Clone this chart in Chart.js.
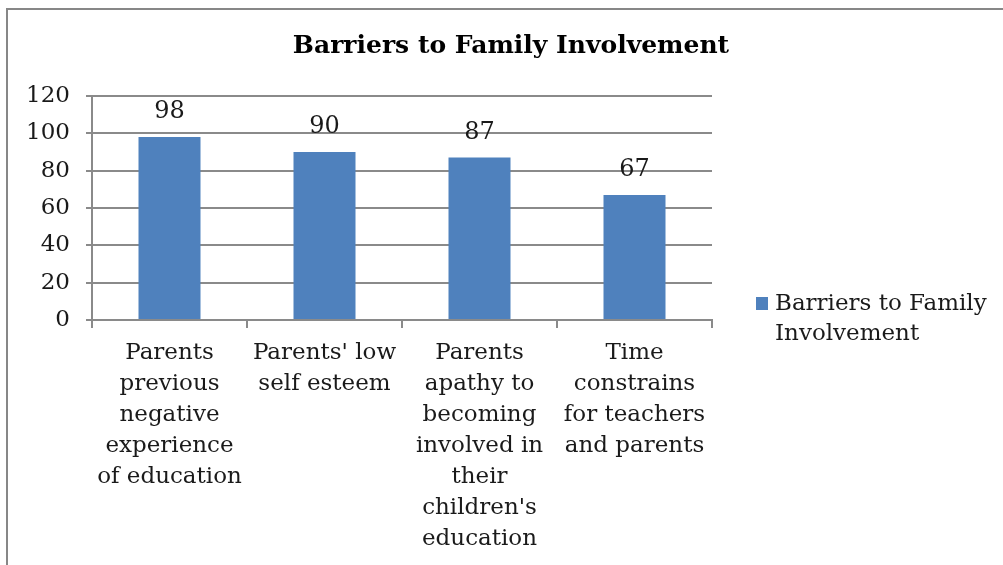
<!DOCTYPE html>
<html>
<head>
<meta charset="utf-8">
<title>Barriers to Family Involvement</title>
<script src="https://cdn.jsdelivr.net/npm/chart.js@4/dist/chart.umd.min.js"></script>
<style>
    html, body {
        margin: 0;
        padding: 0;
        background: #ffffff;
        overflow: hidden;
    }
    canvas {
        display: block;
    }
</style>
</head>
<body>
<canvas id="barriersChart" width="1003" height="565" style="width:1003px;height:565px"></canvas>
<script>
// ==========================================
// Barriers to Family Involvement - bar chart
// ==========================================

const chartTitle = 'Barriers to Family Involvement';
const seriesName = ['Barriers to Family', 'Involvement'];

const categories = [
    ['Parents', 'previous', 'negative', 'experience', 'of education'],
    ["Parents' low", 'self esteem'],
    ['Parents', 'apathy to', 'becoming', 'involved in', 'their', "children's", 'education'],
    ['Time', 'constrains', 'for teachers', 'and parents']
];

const barValues = [98, 90, 87, 67];

const yTicks = [0, 20, 40, 60, 80, 100, 120];

const FONT = "'DejaVu Serif', 'Liberation Serif', serif";
const BAR_BLUE = '#4f81bd';
const GRID_GREY = '#8a8a8a';
const FRAME_GREY = '#878787';
const TEXT_COLOR = '#1a1a1a';

// Chart-box outline (only the top and left edges are on screen)
const chartFrame = {
    id: 'chartFrame',
    beforeDraw(chart) {
        const ctx = chart.ctx;
        ctx.save();
        ctx.strokeStyle = FRAME_GREY;
        ctx.lineWidth = 2;
        ctx.beginPath();
        ctx.moveTo(7, chart.height);
        ctx.lineTo(7, 9);
        ctx.lineTo(chart.width, 9);
        ctx.stroke();
        ctx.restore();
    }
};

// Title centred over the whole chart box (plot + legend)
const wideTitle = {
    id: 'wideTitle',
    afterDraw(chart) {
        const ctx = chart.ctx;
        ctx.save();
        ctx.font = 'bold 25px ' + FONT;
        ctx.fillStyle = '#000000';
        ctx.textAlign = 'center';
        ctx.textBaseline = 'middle';
        ctx.fillText(chartTitle, 511, 46);
        ctx.restore();
    }
};

// Value printed above each bar
const barValueLabels = {
    id: 'barValueLabels',
    afterDatasetsDraw(chart) {
        const ctx = chart.ctx;
        const meta = chart.getDatasetMeta(0);
        ctx.save();
        ctx.font = '24px ' + FONT;
        ctx.fillStyle = TEXT_COLOR;
        ctx.textAlign = 'center';
        ctx.textBaseline = 'middle';
        meta.data.forEach((bar, i) => {
            ctx.fillText(String(barValues[i]), bar.x, bar.y - 25);
        });
        ctx.restore();
    }
};

// Legend on the right, wrapped onto two lines
const sideLegend = {
    id: 'sideLegend',
    afterDraw(chart) {
        const ctx = chart.ctx;
        const x = chart.chartArea.right + 44;
        const y = chart.chartArea.bottom - 17;
        ctx.save();
        ctx.fillStyle = BAR_BLUE;
        ctx.fillRect(x, y - 6, 12, 13);
        ctx.font = '23px ' + FONT;
        ctx.fillStyle = TEXT_COLOR;
        ctx.textAlign = 'left';
        ctx.textBaseline = 'middle';
        seriesName.forEach((line, i) => {
            ctx.fillText(line, x + 19, y + 1 + i * 30);
        });
        ctx.restore();
    }
};

const ctx = document.getElementById('barriersChart');

const barriersChart = new Chart(ctx, {
    type: 'bar',
    data: {
        labels: categories,
        datasets: [{
            label: seriesName.join(' '),
            data: barValues,
            backgroundColor: BAR_BLUE,
            borderWidth: 0,
            categoryPercentage: 0.4,
            barPercentage: 1.0
        }]
    },
    options: {
        responsive: false,
        animation: false,
        layout: {
            padding: { left: 10, right: 291, top: 96, bottom: 0 }
        },
        plugins: {
            legend: { display: false },
            tooltip: { enabled: false },
            title: { display: false }
        },
        scales: {
            x: {
                offset: true,
                grid: {
                    offset: true,
                    drawOnChartArea: false,
                    drawTicks: true,
                    tickLength: 8,
                    color: GRID_GREY,
                    lineWidth: 2
                },
                border: { color: GRID_GREY, width: 2 },
                ticks: {
                    color: TEXT_COLOR,
                    padding: 10,
                    maxRotation: 0,
                    autoSkip: false,
                    font: { family: FONT, size: 23, lineHeight: '31px' }
                },
                afterFit(scale) {
                    scale.height = 565 - 320;
                }
            },
            y: {
                min: 0,
                max: 120,
                afterBuildTicks(scale) {
                    scale.ticks = yTicks.map(v => ({ value: v }));
                },
                grid: {
                    color: GRID_GREY,
                    lineWidth: 2,
                    tickLength: 6
                },
                border: { color: GRID_GREY, width: 2 },
                ticks: {
                    color: TEXT_COLOR,
                    padding: 16,
                    font: { family: FONT, size: 23 }
                },
                afterFit(scale) {
                    scale.width = 82;
                }
            }
        }
    },
    plugins: [chartFrame, wideTitle, barValueLabels, sideLegend]
});
</script>
</body>
</html>
